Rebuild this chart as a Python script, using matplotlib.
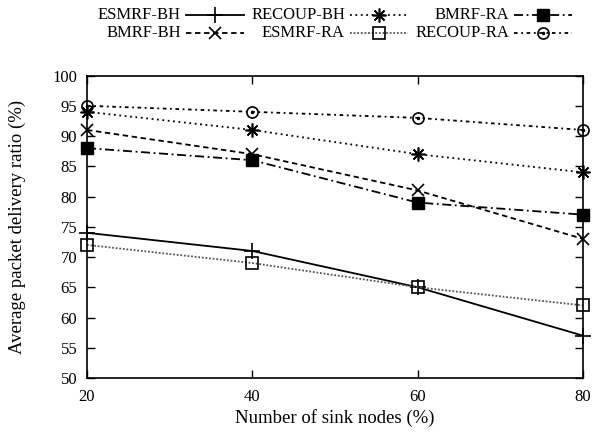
import matplotlib
matplotlib.use('Agg')
import matplotlib.pyplot as plt
from matplotlib.lines import Line2D
import numpy as np

plt.rcParams['font.family'] = ['Liberation Serif', 'DejaVu Serif']
plt.rcParams['font.size'] = 12

sinks = [20, 40, 60, 80]
esmrf_bh = [74, 71, 65, 57]
recoup_bh = [94, 91, 87, 84]
bmrf_ra = [88, 86, 79, 77]
bmrf_bh = [91, 87, 81, 73]
esmrf_ra = [72, 69, 65, 62]
recoup_ra = [95, 94, 93, 91]

lw = 1.3
styles = {
    'ESMRF-BH': dict(color='k', ls='-', marker='+', ms=11, mew=1.2),
    'RECOUP-BH': dict(color='k', ls=(0, (1, 2)), marker=(8, 2, 0), ms=10, mew=1.2),
    'BMRF-RA': dict(color='k', ls=(0, (5, 2, 1, 2)), marker='s', ms=8),
    'BMRF-BH': dict(color='k', ls=(0, (3, 2)), marker='x', ms=9, mew=1.2),
    'ESMRF-RA': dict(color='#555555', ls=(0, (1, 1)), marker='s', ms=8,
                     mfc='none', mec='k', mew=1.2),
    'RECOUP-RA': dict(color='k', ls=(0, (2, 2, 1, 2)), marker='o', ms=8,
                      mfc='none', mec='k', mew=1.2),
}
series = [('ESMRF-BH', esmrf_bh), ('RECOUP-BH', recoup_bh), ('BMRF-RA', bmrf_ra),
          ('BMRF-BH', bmrf_bh), ('ESMRF-RA', esmrf_ra), ('RECOUP-RA', recoup_ra)]

fig = plt.figure(figsize=(5.93, 4.33), dpi=100)
ax = fig.add_axes([0.1467, 0.127, 0.8363, 0.6986])

for name, vals in series:
    ax.plot(sinks, vals, lw=lw, clip_on=False, **styles[name])
ax.plot(sinks, recoup_ra, ls='none', marker='.', ms=3, color='k', clip_on=False)

ax.set_xlim(20, 80)
ax.set_ylim(50, 100)
ax.set_xticks(sinks)
ax.set_yticks(np.arange(50, 101, 5))
ax.tick_params(direction='in', length=6, top=True, right=True, width=1)
ax.tick_params(axis='x', pad=8)
ax.tick_params(axis='y', pad=7)
for s in ax.spines.values():
    s.set_linewidth(1.2)
ax.set_xlabel('Number of sink nodes (%)', fontsize=13.5, labelpad=3)
ax.set_ylabel('Average packet delivery ratio (%)', fontsize=13.5, labelpad=19)

# gnuplot-style key: label right-aligned, sample to its right, 3 columns x 2 rows
row_y = [1 - 15 / 433, 1 - 33 / 433]
col_x = [181 / 593, 345 / 593, 509 / 593]
for i, (name, vals) in enumerate(series):
    col, row = i % 3, i // 3
    x = col_x[col]
    y = row_y[row]
    fig.text(x, y, name, ha='right', va='center')
    st = dict(styles[name])
    mk = {k: st.pop(k) for k in ['marker', 'ms', 'mew', 'mfc', 'mec'] if k in st}
    fig.add_artist(Line2D([x + 5 / 593, x + 63 / 593], [y, y], lw=lw,
                          transform=fig.transFigure, **st))
    fig.add_artist(Line2D([x + 34 / 593], [y], ls='none', color=st['color'],
                          transform=fig.transFigure, **mk))
    if name == 'RECOUP-RA':
        fig.add_artist(Line2D([x + 34 / 593], [y], ls='none', marker='.', ms=3,
                              color='k', transform=fig.transFigure))

fig.savefig('out.png', dpi=100)
